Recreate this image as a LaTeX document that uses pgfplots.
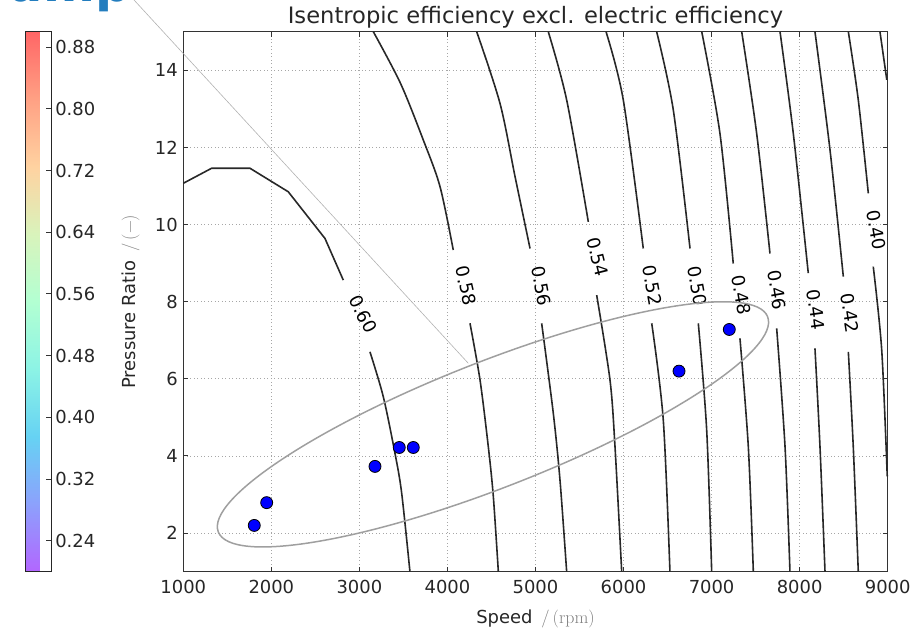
\documentclass[border=0pt]{standalone}
\usepackage[no-math]{fontspec}
\setmainfont{DejaVu Sans}
\newfontfamily\lmr{Latin Modern Roman}
\usepackage{pgfplots}
\pgfplotsset{compat=1.18}
\definecolor{cline}{RGB}{40,40,40}
\definecolor{slideblue}{RGB}{35,125,190}
\pgfplotsset{colormap={palerainbow}{rgb=(0.7,0.4,1) rgb=(0.55,0.63,0.989) rgb=(0.4,0.824,0.954) rgb=(0.55,0.954,0.899) rgb=(0.7,1,0.824) rgb=(0.85,0.954,0.734) rgb=(1,0.824,0.63) rgb=(1,0.63,0.517) rgb=(1,0.4,0.4)}}
\newcommand\tfont{\fontsize{18}{21}\selectfont}
\begin{document}
\begin{tikzpicture}
\begin{axis}[
  at={(183.3bp,60.3bp)}, anchor=south west,
  width=704.4bp, height=540bp, scale only axis,
  xmin=1000, xmax=9000, ymin=1, ymax=15,
  xtick={1000,2000,3000,4000,5000,6000,7000,8000,9000},
  ytick={2,4,6,8,10,12,14},
  grid=major, grid style={dash pattern=on 1bp off 2.5bp, gray!70, line width=0.9bp},
  axis line style={black!80, line width=1.2bp},
  tick style={black!80, line width=1bp},
  major tick length=5bp, tick align=inside,
  tick label style={font=\tfont, black!85},
  xticklabel style={yshift=-5bp},
  yticklabel style={xshift=-2bp},
  /pgf/number format/assume math mode=true,
  /pgf/number format/1000 sep={},
  title={Isentropic efficiency excl. electric efficiency},
  title style={font=\fontsize{22.7}{26}\selectfont, black!85, at={(axis description cs:0.5,1)}, anchor=base, yshift=2bp},
  xlabel={Speed\hspace{0.5em}\textcolor{gray}{\lmr /\,(rpm)}},
  ylabel={Pressure Ratio\hspace{0.5em}\textcolor{gray}{\lmr /\,(−)}},
  label style={font=\tfont, black!85},
  xlabel style={at={(axis description cs:0.5,0)}, anchor=base, yshift=-51.3bp},
  ylabel style={at={(axis description cs:0,0.5)}, anchor=base, yshift=48.3bp},
  colormap name=palerainbow,
  point meta min=0.2, point meta max=0.9,
  colorbar,
  colorbar style={
    at={(parent axis.south west)}, anchor=south west, xshift=-166.6bp,
    width=26.6bp,
    ymin=0.2, ymax=0.9,
    ytick={0.24,0.32,0.40,0.48,0.56,0.64,0.72,0.80,0.88},
    ytick pos=right, yticklabel pos=right,
    ytick align=inside, major tick length=6bp,
    ytick style={black!80, line width=1bp},
    axis line style={black!85, line width=1.1bp},
    yticklabel style={font=\tfont, black!85, xshift=0bp,
      /pgf/number format/.cd, fixed, fixed zerofill, precision=2, assume math mode=true},
  },
  clip=false,
]
% contour 0.60
\addplot[cline, line width=1.6bp] coordinates {(1000,11.07) (1322,11.46) (1757,11.46) (2192,10.85) (2609,9.64) (2817,8.56)};
\addplot[cline, line width=1.6bp, smooth] coordinates {(3120,6.70) (3271,5.54) (3404,4.07) (3480,3.04) (3574,1.0)};
% 0.58
\addplot[cline, line width=1.6bp, smooth] coordinates {(3158,15) (3467,13.66) (3726,12.19) (3916,10.98) (4066,9.34)};
\addplot[cline, line width=1.6bp, smooth] coordinates {(4256,7.44) (4370,5.97) (4464,4.24) (4521,2.95) (4578,1.0)};
% 0.56
\addplot[cline, line width=1.6bp, smooth] coordinates {(4332,15) (4597,13.14) (4768,11.24) (4938,9.38)};
\addplot[cline, line width=1.6bp, smooth] coordinates {(5070,7.44) (5202,5.11) (5278,3.38) (5354,1.0)};
% 0.54
\addplot[cline, line width=1.6bp, smooth] coordinates {(5145,15) (5354,13.23) (5600,10.07)};
\addplot[cline, line width=1.6bp, smooth] coordinates {(5695,8.17) (5846,5.97) (5903,4.24) (5979,1.0)};
% 0.52
\addplot[cline, line width=1.6bp, smooth] coordinates {(5801,15) (5997,13.23) (6224,9.38)};
\addplot[cline, line width=1.6bp, smooth] coordinates {(6320,7.44) (6451,4.94) (6527,1.0)};
% 0.50
\addplot[cline, line width=1.6bp, smooth] coordinates {(6376,15) (6565,12.97) (6755,9.38)};
\addplot[cline, line width=1.6bp, smooth] coordinates {(6849,7.44) (6944,4.68) (7001,1.0)};
% 0.48
\addplot[cline, line width=1.6bp, smooth] coordinates {(6888,15) (7095,12.36) (7246,8.99)};
\addplot[cline, line width=1.6bp, smooth] coordinates {(7322,7.05) (7417,4.24) (7474,1.0)};
% 0.46
\addplot[cline, line width=1.6bp, smooth] coordinates {(7342,15) (7512,12.36) (7663,9.25)};
\addplot[cline, line width=1.6bp, smooth] coordinates {(7739,7.31) (7834,4.24) (7890,1.0)};
% 0.44
\addplot[cline, line width=1.6bp, smooth] coordinates {(7777,15) (7928,12.36) (8098,8.74)};
\addplot[cline, line width=1.6bp, smooth] coordinates {(8174,6.79) (8231,4.24) (8288,1.0)};
% 0.42
\addplot[cline, line width=1.6bp, smooth] coordinates {(8174,15) (8345,11.93) (8496,8.65)};
\addplot[cline, line width=1.6bp, smooth] coordinates {(8553,6.70) (8609,4.24) (8666,1.0)};
% 0.40
\addplot[cline, line width=1.6bp, smooth] coordinates {(8553,15) (8666,13.23) (8780,10.81)};
\addplot[cline, line width=1.6bp, smooth] coordinates {(8836,8.91) (8932,6.75) (8995,3.47)};
% 0.38
\addplot[cline, line width=1.6bp] coordinates {(8912,15) (8990,13.75)};
% contour labels
\node[rotate=-63, font=\tfont, inner sep=0] at (axis cs:3041,7.68) {0.60};
\node[rotate=-77, font=\tfont, inner sep=0] at (axis cs:4211,8.41) {0.58};
\node[rotate=-80, font=\tfont, inner sep=0] at (axis cs:5063,8.41) {0.56};
\node[rotate=-76, font=\tfont, inner sep=0] at (axis cs:5710,9.16) {0.54};
\node[rotate=-80, font=\tfont, inner sep=0] at (axis cs:6323,8.42) {0.52};
\node[rotate=-80, font=\tfont, inner sep=0] at (axis cs:6834,8.41) {0.50};
\node[rotate=-80, font=\tfont, inner sep=0] at (axis cs:7334,8.17) {0.48};
\node[rotate=-80, font=\tfont, inner sep=0] at (axis cs:7742,8.30) {0.46};
\node[rotate=-82, font=\tfont, inner sep=0] at (axis cs:8186,7.79) {0.44};
\node[rotate=-81, font=\tfont, inner sep=0] at (axis cs:8572,7.71) {0.42};
\node[rotate=-80, font=\tfont, inner sep=0] at (axis cs:8867,9.86) {0.40};
% measured points
\addplot[only marks, mark=*, mark size=6bp, mark options={fill=blue, draw=black, line width=0.8bp}] coordinates {(1806,2.20) (1947,2.79) (3177,3.73) (3453,4.22) (3612,4.22) (6630,6.20) (7201,7.28)};
\coordinate (ec) at (axis cs:4517,4.82);
\end{axis}
\draw[gray!60, line width=0.6bp] (468.3bp,268.7bp) -- (120.5bp,646.7bp);
\draw[gray!75, line width=1.5bp, shift={(ec)}, rotate=21.4] (0,0) ellipse [x radius=295bp, y radius=63bp];
\node[anchor=base east, inner sep=0, font=\fontsize{50}{50}\selectfont\bfseries, text=slideblue] at (131bp,630.5bp) {Heat Pump};
\pgfresetboundingbox
\path[use as bounding box] (0,0) rectangle (921bp,632bp);
\end{tikzpicture}
\end{document}
